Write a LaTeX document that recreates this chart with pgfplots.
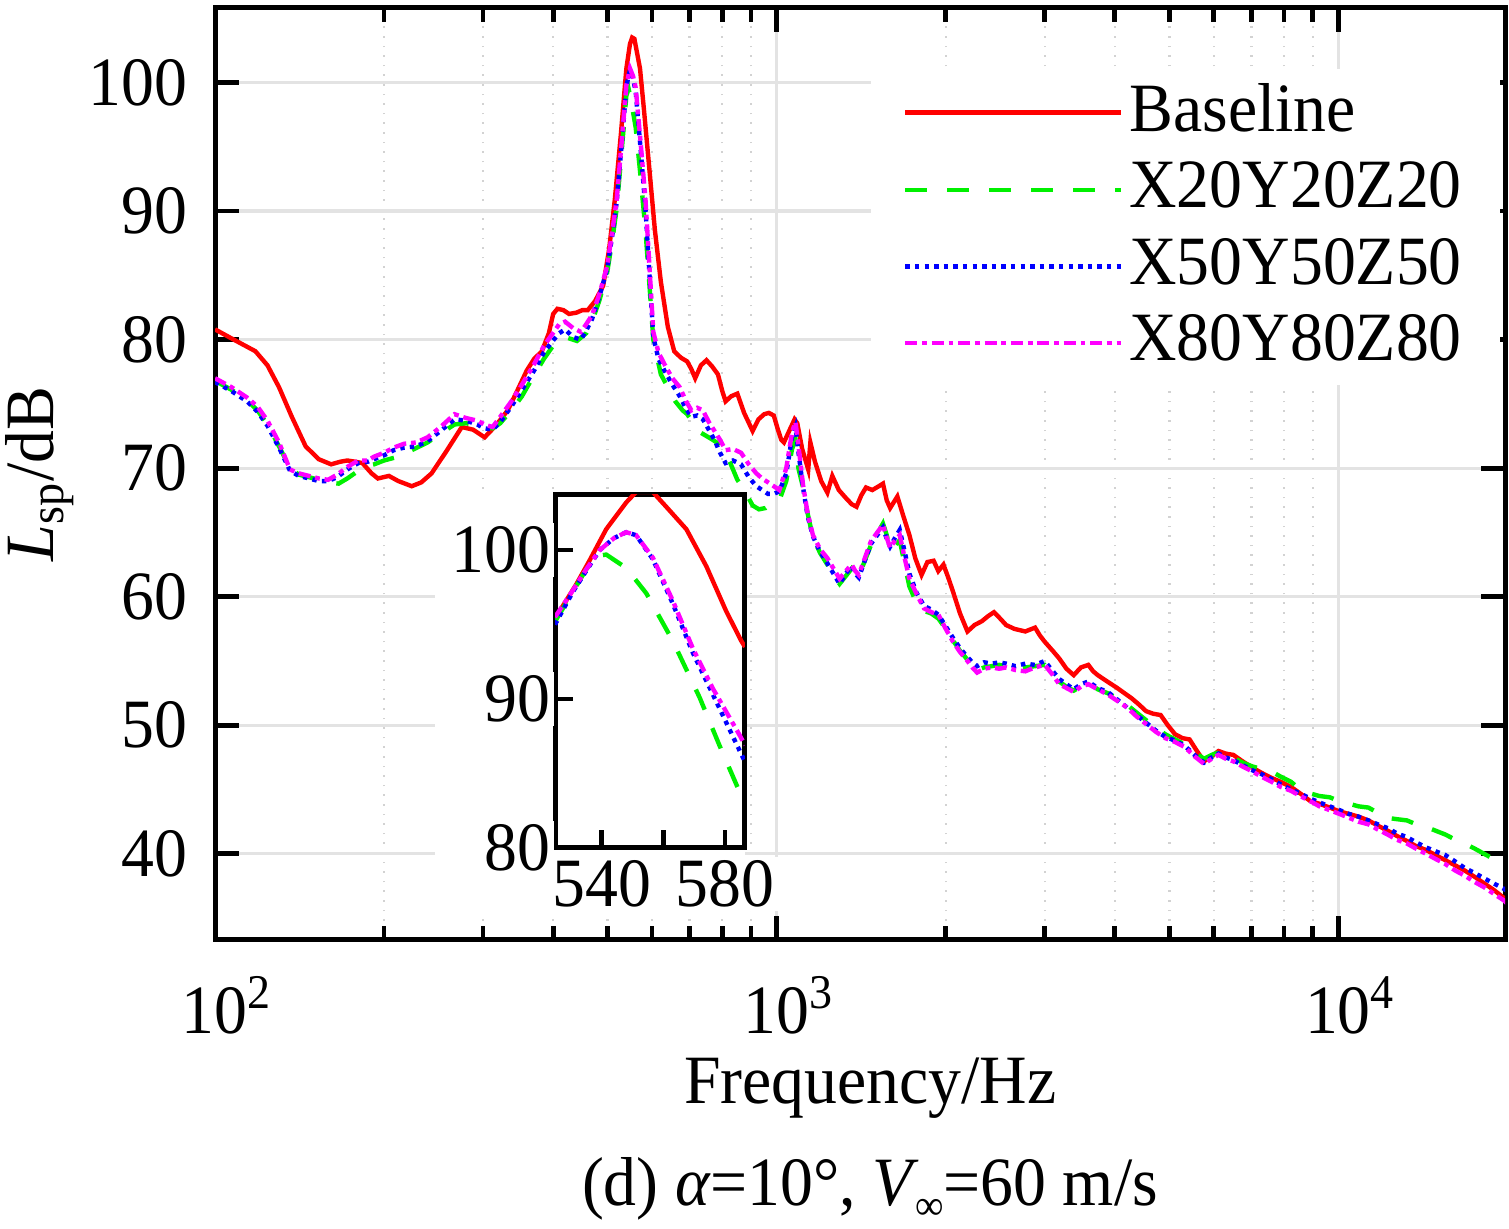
\documentclass[border=0pt]{standalone}
\usepackage{fontspec}
\setmainfont{Liberation Serif}[FakeStretch=0.95]
\usepackage{pgfplots}
\usepackage{pgfplotstable}
\pgfplotsset{compat=1.18}
\usetikzlibrary{calc}
\definecolor{cred}{RGB}{255,0,0}
\definecolor{cgreen}{RGB}{0,240,0}
\definecolor{cblue}{RGB}{0,0,255}
\definecolor{cmag}{RGB}{255,0,255}
\newcommand{\fs}{\fontsize{17.3}{20}\selectfont}

\pgfplotstableread{
f L
100 80.8
108 80.0
118 79.1
124 78.0
130 76.3
137 74.0
145 71.7
153 70.7
161 70.3
167 70.5
172 70.6
178 70.5
183 70.4
190 69.6
195 69.2
204 69.4
212 69.0
224 68.6
233 68.9
243 69.6
258 71.3
275 73.2
288 73.0
302 72.4
316 73.3
332 74.5
345 76.0
359 77.6
370 78.5
382 79.1
393 80.5
400 82.0
407 82.4
417 82.3
427 82.0
440 82.1
451 82.3
461 82.3
475 83.0
491 84.2
503 87.0
515 90.9
528 96.0
540 101.1
548 103.0
553 103.5
558 103.4
571 101.1
580 98.0
593 93.4
607 88.5
622 84.5
640 81.0
657 79.1
675 78.6
693 78.3
705 77.7
716 77.0
733 78.0
750 78.4
768 77.9
786 77.3
800 76.0
811 75.2
830 75.6
851 75.8
875 74.3
906 72.9
928 73.8
950 74.2
968 74.3
988 74.1
1005 73.0
1019 72.2
1030 72.0
1050 72.8
1076 73.8
1088 73.5
1110 71.5
1138 69.9
1148 72.0
1170 70.5
1200 69.0
1231 68.1
1256 69.4
1290 68.3
1333 67.6
1360 67.2
1387 67.0
1415 67.9
1442 68.5
1480 68.3
1520 68.6
1546 68.8
1570 67.5
1592 66.9
1640 67.8
1680 66.3
1723 64.8
1765 63.0
1811 61.7
1855 62.7
1903 62.8
1940 62.0
1981 62.5
2020 61.5
2060 60.4
2120 58.7
2186 57.3
2250 57.8
2319 58.1
2380 58.5
2437 58.8
2500 58.3
2561 57.8
2650 57.5
2771 57.3
2884 57.6
2940 57.0
3000 56.5
3100 55.8
3184 55.2
3280 54.4
3379 53.9
3480 54.5
3587 54.7
3660 54.2
3730 53.9
3880 53.4
4039 52.9
4160 52.5
4285 52.1
4420 51.6
4546 51.1
4680 50.9
4825 50.8
4970 50.0
5120 49.3
5280 49.0
5433 48.9
5600 48.0
5765 47.2
5950 47.6
6118 48.0
6300 47.8
6499 47.7
6750 47.2
7032 46.7
7300 46.3
7609 45.9
7900 45.6
8238 45.2
8550 44.7
8915 44.1
9250 43.9
9650 43.6
10050 43.3
10450 43.1
10850 42.9
11310 42.6
11750 42.2
12240 41.8
12700 41.4
13250 41.0
13750 40.6
14330 40.3
14900 39.9
15510 39.5
16150 39.1
16790 38.7
17500 38.2
18180 37.7
18900 37.2
19680 36.6
20000 36.2
}\tabred

\pgfplotstableread{
f L
100 76.8
107 76.1
114 75.3
119 74.5
124 73.4
130 71.7
136 70.0
141 69.5
147 69.3
153 69.1
159 68.9
166 68.8
172 69.2
180 69.8
187 70.2
192 70.3
200 70.6
208 70.8
217 71.0
224 71.4
239 72.0
252 72.7
267 73.4
280 73.5
293 73.3
302 73.2
312 73.1
322 73.5
337 74.5
352 75.6
365 76.8
385 78.5
401 79.6
410 80.0
420 80.2
434 80.0
441 79.9
458 80.5
469 81.4
483 83.0
499 85.2
510 87.8
519 90.2
530 94.8
540 99.0
545 99.5
550 98.7
561 96.5
572 92.8
584 88.5
593 84.5
603 80.0
622 77.3
640 76.3
660 75.2
680 74.5
693 74.2
710 73.5
730 72.8
750 72.5
770 72.2
800 71.7
825 70.5
851 69.1
878 68.2
906 67.1
930 66.8
955 66.9
980 67.3
1011 67.5
1040 69.0
1065 71.5
1080 72.2
1093 70.0
1114 68.5
1135 66.5
1160 64.6
1195 63.4
1231 62.5
1262 61.7
1294 61.0
1327 61.6
1360 62.2
1380 61.8
1400 61.6
1435 62.8
1471 64.0
1510 64.9
1546 65.7
1570 64.8
1592 63.6
1625 64.0
1656 64.4
1690 62.5
1723 60.8
1775 59.5
1829 58.9
1885 58.7
1941 58.3
2000 57.5
2060 56.6
2120 55.8
2186 55.1
2230 54.7
2274 54.3
2340 54.5
2413 54.6
2490 54.7
2561 54.6
2660 54.4
2771 54.5
2880 54.6
3000 54.7
3090 54.1
3184 53.4
3280 53.0
3379 52.7
3480 53.0
3587 53.3
3730 52.8
3884 52.5
4040 52.1
4202 51.6
4370 51.0
4546 50.4
4730 49.8
4920 49.3
5120 48.9
5329 48.5
5540 47.9
5765 47.4
5950 47.7
6118 47.9
6300 47.7
6499 47.5
6750 47.1
7032 46.8
7300 46.6
7609 46.4
7900 46.0
8238 45.6
8550 45.0
8915 44.7
9250 44.5
9650 44.4
10050 44.1
10450 43.9
10850 43.7
11310 43.6
11750 43.2
12240 42.8
12700 42.7
13250 42.6
13750 42.3
14330 42.1
14900 41.8
15510 41.5
16150 41.1
16790 40.8
17500 40.4
18180 40.0
18900 39.6
19680 39.2
20000 39.0
}\tabgreen

\pgfplotstableread{
f L
100 76.7
107 76.0
114 75.2
119 74.4
124 73.3
130 71.6
136 69.8
141 69.4
147 69.2
153 69.0
159 69.0
165 69.3
172 69.9
180 70.4
187 70.5
192 70.7
200 71.0
208 71.4
217 71.6
228 71.7
239 72.1
252 72.9
267 73.8
280 73.7
293 73.4
302 73.1
312 73.0
322 73.6
337 74.8
352 76.1
370 77.6
385 79.0
401 80.0
410 80.5
420 80.8
434 80.2
448 80.0
458 80.7
469 81.6
483 83.3
499 85.5
510 88.2
519 90.7
530 95.3
540 99.7
548 101.0
555 100.3
561 99.3
572 95.0
584 90.2
593 85.4
603 80.2
616 78.5
631 77.6
652 76.5
672 75.6
690 74.6
705 74.0
722 74.1
739 73.8
757 73.0
775 72.2
793 71.2
811 70.4
836 70.6
864 70.3
892 69.3
920 68.6
942 68.3
965 68.0
988 68.0
1011 68.2
1040 69.6
1065 72.4
1080 73.2
1095 71.0
1114 68.5
1135 66.3
1160 64.7
1195 63.5
1231 62.6
1262 61.8
1294 61.0
1327 61.8
1360 62.4
1380 61.8
1400 61.5
1435 62.8
1471 64.1
1510 64.8
1546 65.4
1570 64.5
1592 63.9
1625 64.6
1656 65.2
1690 63.5
1723 61.8
1775 60.3
1829 59.3
1885 59.0
1941 58.6
2000 57.7
2060 56.8
2120 56.0
2186 55.3
2230 54.9
2274 54.6
2340 54.9
2413 54.8
2490 54.9
2561 54.8
2660 54.6
2771 54.8
2880 54.7
3000 55.0
3090 54.3
3184 53.6
3280 53.2
3379 52.8
3480 53.2
3587 53.4
3730 52.9
3884 52.6
4040 52.0
4202 51.4
4370 50.8
4546 50.2
4730 49.6
4920 49.1
5120 48.8
5329 48.4
5540 47.7
5765 47.1
5950 47.5
6118 47.8
6300 47.5
6499 47.3
6750 46.9
7032 46.5
7300 46.2
7609 45.8
7900 45.4
8238 45.0
8550 44.7
8915 44.3
9250 44.0
9650 43.7
10050 43.4
10450 43.1
10850 42.9
11310 42.6
11750 42.3
12240 42.0
12700 41.6
13250 41.3
13750 40.9
14330 40.5
14900 40.2
15510 39.9
16150 39.4
16790 38.9
17500 38.5
18180 38.1
18900 37.7
19680 37.3
20000 37.1
}\tabblue

\pgfplotstableread{
f L
100 77.0
107 76.3
114 75.5
119 74.8
124 73.7
130 72.0
136 69.9
141 69.6
147 69.4
153 69.2
159 69.1
165 69.5
172 70.1
180 70.6
187 70.6
192 70.9
200 71.2
208 71.6
217 71.9
228 72.0
239 72.4
252 73.2
267 74.2
280 73.9
293 73.7
302 73.4
312 73.2
322 74.0
337 75.2
352 76.5
370 78.1
385 79.5
401 80.6
410 81.2
420 81.4
434 80.9
448 80.6
458 81.2
469 81.9
483 83.5
499 85.7
510 88.5
519 90.9
530 95.5
540 99.8
548 101.1
555 100.5
561 99.6
572 95.5
584 90.9
593 86.0
603 80.6
616 79.0
631 78.1
652 77.0
672 76.3
690 75.2
705 74.5
722 74.7
739 74.5
757 73.6
775 72.9
793 72.2
811 71.4
836 71.5
864 71.2
892 70.3
920 69.6
942 69.2
965 68.9
988 68.6
1011 68.3
1040 70.0
1065 72.8
1080 73.6
1095 71.5
1114 68.7
1135 66.5
1160 64.8
1195 63.7
1231 63.0
1262 62.2
1294 61.4
1327 62.0
1360 62.5
1380 62.0
1400 61.7
1435 63.0
1471 64.3
1510 65.0
1546 65.6
1570 64.6
1592 63.8
1625 64.4
1656 64.8
1690 63.0
1723 61.4
1775 60.2
1829 59.1
1885 58.8
1941 58.6
2000 57.5
2060 56.5
2120 55.7
2186 55.0
2230 54.5
2274 54.1
2340 54.4
2413 54.5
2490 54.4
2561 54.5
2660 54.3
2771 54.2
2880 54.5
3000 54.7
3090 54.0
3184 53.2
3280 52.9
3379 52.6
3480 53.0
3587 53.2
3730 52.8
3884 52.4
4040 51.9
4202 51.4
4370 50.7
4546 50.1
4730 49.5
4920 49.0
5120 48.7
5329 48.3
5540 47.6
5765 47.0
5950 47.4
6118 47.7
6300 47.4
6499 47.2
6750 46.8
7032 46.4
7300 46.0
7609 45.6
7900 45.2
8238 44.9
8550 44.5
8915 44.1
9250 43.7
9650 43.4
10050 43.1
10450 42.8
10850 42.5
11310 42.3
11750 41.9
12240 41.5
12700 41.1
13250 40.8
13750 40.4
14330 40.0
14900 39.6
15510 39.2
16150 38.7
16790 38.3
17500 37.8
18180 37.4
18900 36.9
19680 36.4
20000 36.1
}\tabmag

\begin{document}
\fs
\begin{tikzpicture}
\path[use as bounding box] (-53.75pt,-72.25pt) rectangle (323.5pt,235pt);
\begin{axis}[
  name=main, at={(0,0)}, anchor=south west,
  scale only axis, width=322.5pt, height=233pt,
  xmode=log, xmin=100, xmax=19800, ymin=33.3, ymax=105.8,
  xtick={100,1000,10000},
  xticklabels={10\textsuperscript{2},10\textsuperscript{3},10\textsuperscript{4}},
  minor xtick={200,300,400,500,600,700,800,900,2000,3000,4000,5000,6000,7000,8000,9000},
  ytick={40,50,60,70,80,90,100},
  /pgf/number format/assume math mode=true,
  tick align=inside,
  major tick length=6pt, minor tick length=3.5pt,
  every tick/.style={black, line width=1.2pt},
  axis line style={line width=1.25pt},
  grid=both,
  major grid style={gray!22, line width=0.8pt},
  minor grid style={gray!35, dotted, line width=0.6pt},
  tick label style={font=\fs},
  xticklabel style={anchor=base, yshift=-23.5pt, xshift=3pt},
  yticklabel style={xshift=-1pt},
  label style={font=\fs},
  xlabel={Frequency/Hz},
  ylabel={\textit{L}\textsubscript{sp}/dB},
  xlabel style={at={(axis description cs:0.508,-0.175)}, anchor=base},
  ylabel style={at={(axis description cs:-0.136,0.5)}, anchor=center, rotate=0, inner sep=0pt},
  legend style={at={(axis description cs:0.508,0.935)}, anchor=north west,
    draw=none, fill=white, inner xsep=8pt, inner ysep=2pt, font=\fs,
    row sep=2pt, nodes={inner sep=1.5pt}},
  legend cell align=left,
  legend image code/.code={\draw[#1] (0pt,0pt) -- (54pt,0pt);},
  every axis plot/.append style={line width=1.1pt},
]
\addplot[cred] table[x=f,y=L] {\tabred};
\addlegendentry{Baseline}
\addplot[cgreen, dash pattern=on 5.5pt off 5pt] table[x=f,y=L] {\tabgreen};
\addlegendentry{X20Y20Z20}
\addplot[cblue, dash pattern=on 1.1pt off 1.3pt] table[x=f,y=L] {\tabblue};
\addlegendentry{X50Y50Z50}
\addplot[cmag, dash pattern=on 3pt off 1.2pt on 1.2pt off 1.2pt] table[x=f,y=L] {\tabmag};
\addlegendentry{X80Y80Z80}
\end{axis}

\fill[white] ($(main.north west)+(55pt,-121.75pt)$) rectangle ($(main.north west)+(132.5pt,-226.75pt)$);

\begin{axis}[
  name=inset, at={($(main.north west)+(85pt,-121.75pt)$)}, anchor=north west,
  scale only axis, width=47.5pt, height=88.25pt,
  xmin=524.9, xmax=586.5, ymin=80, ymax=103.7,
  xtick={540,560,580}, xticklabels={540,,580},
  ytick={80,90,100},
  /pgf/number format/assume math mode=true,
  tick align=inside, xtick pos=bottom, ytick pos=left,
  major tick length=4.5pt,
  every tick/.style={black, line width=1.2pt},
  axis line style={line width=1.25pt},
  axis background/.style={fill=white},
  tick label style={font=\fs, fill=white, inner sep=1pt},
  xticklabel style={yshift=-2pt},
  every axis plot/.append style={line width=1.1pt},
]
\addplot[cred] coordinates {
(524.9,95.6) (525.8,95.7) (531.8,97.7) (536.1,99.3) (541.5,101.4) (548,103.2) (551.2,103.9) (556.6,103.9) (561,102.9) (567.5,101.4) (574,98.9) (580.4,95.9) (585.3,93.9) (586.5,93.5)};
\addplot[cgreen, dash pattern=on 5.5pt off 5pt] coordinates {
(524.9,95.2) (530.7,97.2) (535,98.7) (538.5,99.6) (541.5,99.7) (548,98.8) (554.5,97.1) (563.1,93.9) (571.8,90.1) (578.2,86.9) (585.3,83.5) (586.5,82.9)};
\addplot[cblue, dash pattern=on 1.1pt off 1.3pt] coordinates {
(524.9,95.0) (530.7,97.2) (535,98.6) (539.4,100.0) (544,100.8) (548,101.2) (551.2,101.0) (556.6,99.4) (563.1,96.4) (569.6,93.1) (576.1,90.3) (585.3,86.3) (586.5,85.8)};
\addplot[cmag, dash pattern=on 3pt off 1.2pt on 1.2pt off 1.2pt] coordinates {
(524.9,95.5) (530.7,97.3) (535,98.7) (539.4,100.0) (544,100.8) (548,101.2) (551.2,101.0) (556.6,99.5) (563.1,96.6) (569.6,93.4) (576.1,90.7) (584.7,87.6) (586.5,86.9)};
\end{axis}

\node[font=\fs, anchor=base, inner sep=0pt] at ($(main.south)+(2.5pt,-66.5pt)$) {(d) \textit{α}=10°, \textit{V}\kern-1pt\raisebox{-3.3pt}{\fontsize{10.5}{12}\selectfont ∞}=60 m/s};
\end{tikzpicture}
\end{document}
